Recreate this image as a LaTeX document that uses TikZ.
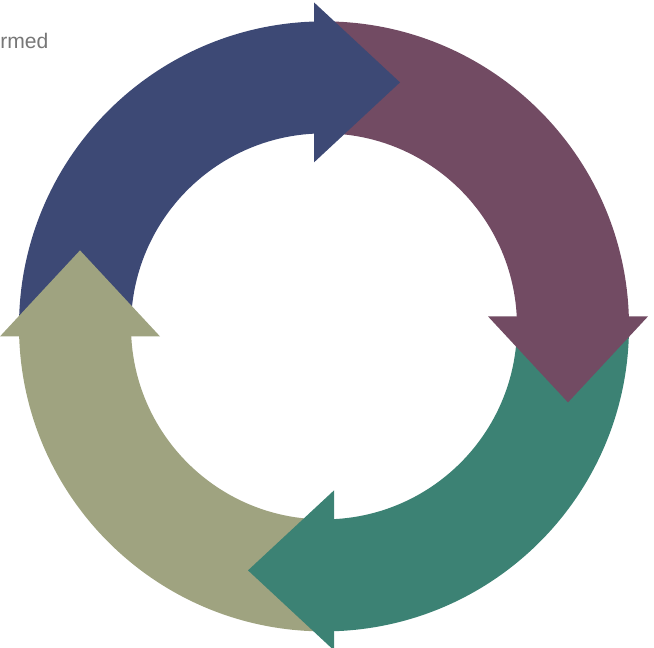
\documentclass[tikz,border=0pt]{standalone}
\usepackage{fontspec}
\setmainfont{Liberation Sans}
\usepackage{xcolor}
\usepackage{tikz}
\usetikzlibrary{calc,positioning}
\definecolor{arrowblue}{HTML}{3D4975}
\definecolor{arrowplum}{HTML}{724B63}
\definecolor{arrowteal}{HTML}{3C8274}
\definecolor{arrowolive}{HTML}{9FA380}
\definecolor{captiongray}{HTML}{777777}
\tikzset{%
	ringpart/.style = {draw=none}, % part of the ring
	headpart/.style = {draw=none}, % arrow head
	caption/.style  = {text=captiongray, inner sep=0pt, font=\fontsize{15}{18}\selectfont}, % cut text
}
\begin{document}
\begin{tikzpicture}[x=0.025cm,y=0.025cm]
		\useasboundingbox (0,0) rectangle (654,648);
		\coordinate (c) at (324,321.6);
		
		% ring parts first, heads on top of them
		\foreach \col [count=\k from 0] in {arrowblue,arrowplum,arrowteal,arrowolive}
			\fill[ringpart,fill=\col,shift={(c)},rotate=-90*\k] (180:305) arc[start angle=180,end angle=90,radius=305] -- (90:193) arc[start angle=90,end angle=180,radius=193] -- cycle;
		\foreach \col [count=\k from 0] in {arrowblue,arrowplum,arrowteal,arrowolive}
			\fill[headpart,fill=\col,shift={(c)},rotate=-90*\k] (-10,164) -- (76,244) -- (-10,324) -- cycle;
		
		\node [caption,anchor=base west] (word) at (0,599.7) {rmed};
		\end{tikzpicture}
\end{document}
